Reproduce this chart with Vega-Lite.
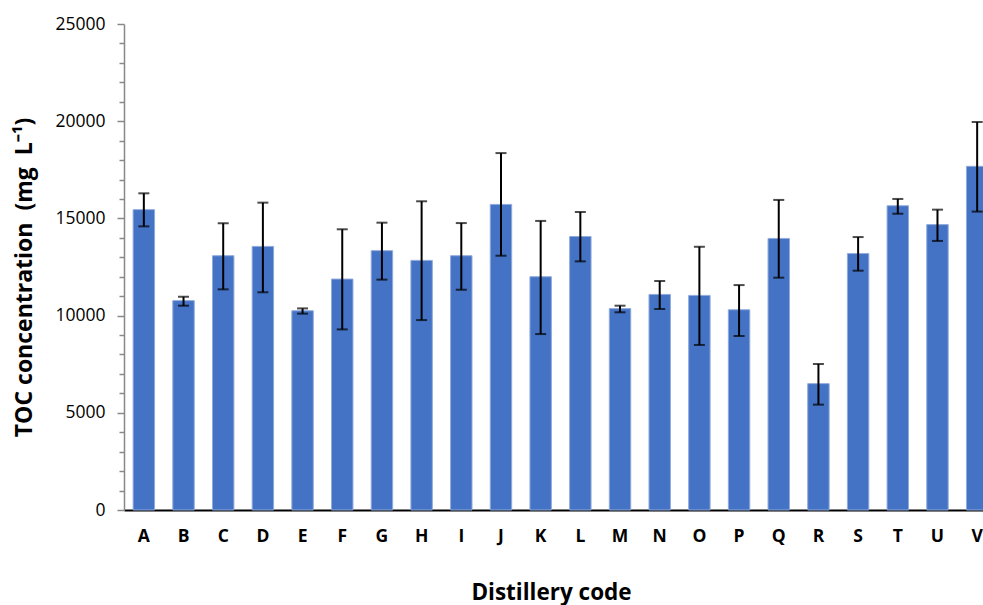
{
  "$schema": "https://vega.github.io/schema/vega-lite/v6.json",
  "autosize": {"type": "none"},
  "padding": {"left": 124, "top": 24, "right": 0, "bottom": 95},
  "width": 873,
  "height": 486,
  "background": "white",
  "config": {"view": {"stroke": null}, "font": "Open Sans"},
  "data": {"values": [
    {"code": "A", "toc": 15450, "lo": 14590, "hi": 16290},
    {"code": "B", "toc": 10770, "lo": 10510, "hi": 10970},
    {"code": "C", "toc": 13080, "lo": 11350, "hi": 14750},
    {"code": "D", "toc": 13560, "lo": 11200, "hi": 15810},
    {"code": "E", "toc": 10250, "lo": 10100, "hi": 10370},
    {"code": "F", "toc": 11880, "lo": 9290, "hi": 14440},
    {"code": "G", "toc": 13340, "lo": 11850, "hi": 14780},
    {"code": "H", "toc": 12840, "lo": 9770, "hi": 15880},
    {"code": "I", "toc": 13080, "lo": 11330, "hi": 14760},
    {"code": "J", "toc": 15720, "lo": 13080, "hi": 18360},
    {"code": "K", "toc": 12000, "lo": 9050, "hi": 14870},
    {"code": "L", "toc": 14070, "lo": 12790, "hi": 15330},
    {"code": "M", "toc": 10360, "lo": 10170, "hi": 10510},
    {"code": "N", "toc": 11090, "lo": 10340, "hi": 11780},
    {"code": "O", "toc": 11040, "lo": 8490, "hi": 13540},
    {"code": "P", "toc": 10300, "lo": 8950, "hi": 11570},
    {"code": "Q", "toc": 13970, "lo": 11950, "hi": 15950},
    {"code": "R", "toc": 6500, "lo": 5420, "hi": 7510},
    {"code": "S", "toc": 13190, "lo": 12310, "hi": 14040},
    {"code": "T", "toc": 15650, "lo": 15240, "hi": 16000},
    {"code": "U", "toc": 14680, "lo": 13840, "hi": 15450},
    {"code": "V", "toc": 17680, "lo": 15350, "hi": 19960}
  ]},
  "encoding": {
    "x": {
      "field": "code", "type": "nominal", "sort": null,
      "scale": {"paddingInner": 0.46, "paddingOuter": 0.23},
      "axis": {
        "title": "Distillery code",
        "labelAngle": 0,
        "labelFont": "Open Sans", "labelFontSize": 17.5, "labelFontWeight": "bold", "labelColor": "#000",
        "labelPadding": 17,
        "ticks": false,
        "domainColor": "#000", "domainWidth": 2,
        "titleFont": "Open Sans", "titleFontSize": 22.5, "titleFontWeight": "bold", "titleColor": "#000",
        "titleX": 427, "titleY": 89, "titleBaseline": "alphabetic", "titleAlign": "center", "titleAnchor": null
      }
    }
  },
  "layer": [
    {
      "mark": {"type": "bar", "color": "#4472C4", "stroke": "#8FAADC", "strokeWidth": 1},
      "encoding": {
        "y": {
          "field": "toc", "type": "quantitative",
          "scale": {"domain": [0, 25000], "nice": false},
          "axis": {
            "title": "TOC concentration\u00a0 (mg\u00a0 L⁻¹)",
            "values": [0, 5000, 10000, 15000, 20000, 25000],
            "format": "d",
            "grid": false,
            "domainColor": "#888", "domainWidth": 1.5,
            "tickColor": "#888", "tickWidth": 1.5, "tickSize": 7,
            "labelFont": "Open Sans", "labelFontSize": 17.5, "labelColor": "#000", "labelPadding": 12,
            "titleFont": "Open Sans", "titleFontSize": 23, "titleFontWeight": "bold", "titleColor": "#000",
            "titleX": -100, "titleY": 253, "titleAngle": -90, "titleBaseline": "middle", "titleAlign": "center", "titleAnchor": null
          }
        }
      }
    },
    {
      "layer": [
        {
          "mark": {"type": "rule", "color": "#000", "strokeWidth": 2},
          "encoding": {
            "y": {"field": "lo", "type": "quantitative",
              "axis": {"orient": "left", "values": [1000,2000,3000,4000,6000,7000,8000,9000,11000,12000,13000,14000,16000,17000,18000,19000,21000,22000,23000,24000], "labels": false, "domain": false, "grid": false, "tickColor": "#888", "tickWidth": 1.5, "tickSize": 5, "title": null}},
            "y2": {"field": "hi"}
          }
        },
        {
          "mark": {"type": "tick", "color": "#000", "thickness": 2, "size": 11},
          "encoding": {
            "y": {"field": "lo", "type": "quantitative",
              "axis": {"orient": "left", "values": [1000,2000,3000,4000,6000,7000,8000,9000,11000,12000,13000,14000,16000,17000,18000,19000,21000,22000,23000,24000], "labels": false, "domain": false, "grid": false, "tickColor": "#888", "tickWidth": 1.5, "tickSize": 5, "title": null}}
          }
        },
        {
          "mark": {"type": "tick", "color": "#000", "thickness": 2, "size": 11},
          "encoding": {
            "y": {"field": "hi", "type": "quantitative",
              "axis": {"orient": "left", "values": [1000,2000,3000,4000,6000,7000,8000,9000,11000,12000,13000,14000,16000,17000,18000,19000,21000,22000,23000,24000], "labels": false, "domain": false, "grid": false, "tickColor": "#888", "tickWidth": 1.5, "tickSize": 5, "title": null}}
          }
        }
      ]
    }
  ],
  "resolve": {"axis": {"y": "independent"}}
}
